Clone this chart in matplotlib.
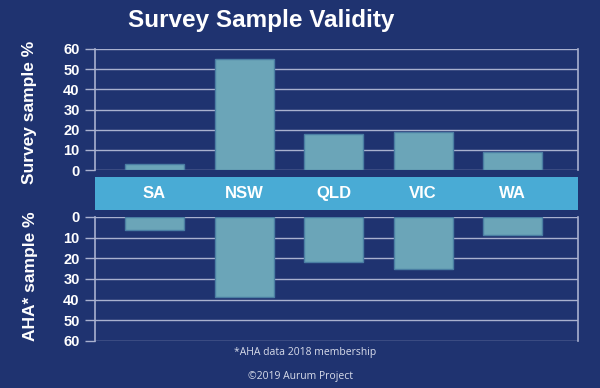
import matplotlib.pyplot as plt

states = ["SA", "NSW", "QLD", "VIC", "WA"]
survey_pct = [3, 55, 18, 19, 9]
aha_pct = [6.5, 38.5, 22, 25, 8.5]
ticks = [0, 10, 20, 30, 40, 50, 60]

bg = "#1f3370"
bar_face = "#6ba5b8"
bar_edge = "#4a7ea3"
band = "#49abd5"
grid_c = "#a9b1cf"

plt.rcParams["font.family"] = ["Liberation Sans", "DejaVu Sans"]

fig = plt.figure(figsize=(6, 3.88), dpi=100, facecolor=bg)

xlim = (-0.665, 4.73)
x = range(len(states))


def style_axes(ax):
    ax.set_facecolor(bg)
    ax.set_xlim(*xlim)
    ax.set_xticks([])
    ax.set_yticks(ticks)
    ax.grid(axis="y", color=grid_c, linewidth=1)
    ax.set_axisbelow(True)
    for side in ["top", "bottom"]:
        ax.spines[side].set_visible(False)
    for side in ["left", "right"]:
        ax.spines[side].set_color(grid_c)
        ax.spines[side].set_linewidth(1.2)
    ax.tick_params(axis="y", colors=grid_c, length=7, width=1, pad=4,
                   labelcolor="white", labelsize=10.5)


# top: survey sample
ax1 = fig.add_axes([95 / 600, 1 - 170 / 388, 483 / 600, 121 / 388])
style_axes(ax1)
ax1.set_ylim(0, 60)
ax1.bar(x, survey_pct, width=0.66, color=bar_face, edgecolor=bar_edge, linewidth=1, zorder=3)
for lbl in ax1.get_yticklabels():
    lbl.set_fontweight("bold")

# bottom: AHA sample (inverted)
ax2 = fig.add_axes([95 / 600, 1 - 341 / 388, 483 / 600, 124 / 388])
style_axes(ax2)
ax2.set_ylim(60, 0)
ax2.bar(x, aha_pct, width=0.66, color=bar_face, edgecolor=bar_edge, linewidth=1, zorder=3)
for lbl in ax2.get_yticklabels():
    lbl.set_fontweight("bold")

# category band
axb = fig.add_axes([95 / 600, 1 - 210 / 388, 483 / 600, 33 / 388])
axb.set_facecolor(band)
axb.set_xlim(*xlim)
axb.set_ylim(0, 1)
axb.set_xticks([])
axb.set_yticks([])
for s in axb.spines.values():
    s.set_visible(False)
for i, s in enumerate(states):
    axb.text(i, 0.5, s, color="white", fontsize=12, fontweight="bold",
             ha="center", va="center")

fig.text(261 / 600, 1 - 21 / 388, "Survey Sample Validity", color="white",
         fontsize=17.5, fontweight="bold", ha="center", va="center")
fig.text(30 / 600, 1 - 112 / 388, "Survey sample %", color="white",
         fontsize=12.5, fontweight="bold", rotation=90, ha="center", va="center")
fig.text(30 / 600, 1 - 276 / 388, "AHA* sample %", color="white",
         fontsize=12.5, fontweight="bold", rotation=90, ha="center", va="center")
fig.text(305 / 600, 1 - 352 / 388, "*AHA data 2018 membership", color="#d8dcea",
         fontsize=7.5, ha="center", va="center", family=["Open Sans", "DejaVu Sans"])
fig.text(300 / 600, 1 - 376 / 388, "\u00a92019 Aurum Project", color="#d8dcea",
         fontsize=7.5, ha="center", va="center", family=["Open Sans", "DejaVu Sans"])

fig.savefig("out.png", dpi=100, facecolor=bg)
